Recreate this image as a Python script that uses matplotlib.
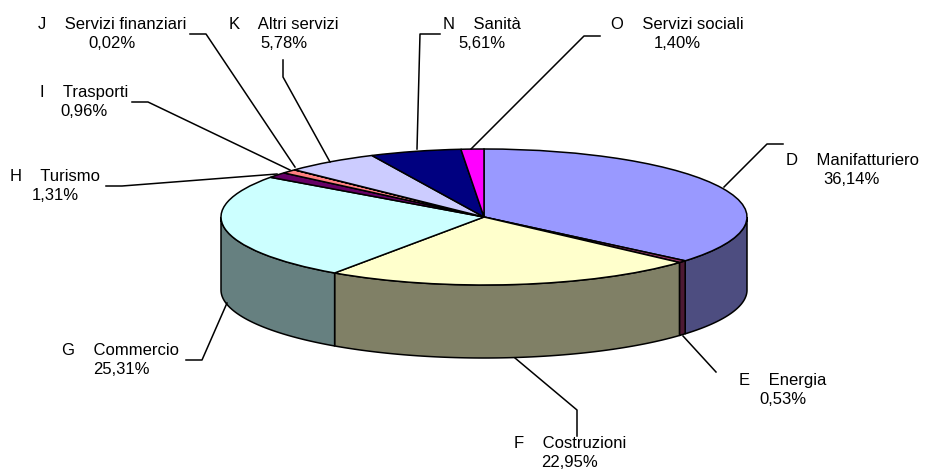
import matplotlib
matplotlib.use('Agg')
import matplotlib.pyplot as plt
import numpy as np
from matplotlib.transforms import Affine2D

plt.rcParams['font.family'] = ['Liberation Sans', 'DejaVu Sans']

W, H = 931, 472

# dati
sigle = ['D', 'E', 'F', 'G', 'H', 'I', 'J', 'K', 'N', 'O']
settori = ['Manifatturiero', 'Energia', 'Costruzioni', 'Commercio', 'Turismo',
           'Trasporti', 'Servizi finanziari', 'Altri servizi', 'Sanità', 'Servizi sociali']
valori = [36.14, 0.53, 22.95, 25.31, 1.31, 0.96, 0.02, 5.78, 5.61, 1.40]
colori = ['#9999FF', '#993366', '#FFFFCC', '#CCFFFF', '#660066',
          '#FF8080', '#0066CC', '#CCCCFF', '#000080', '#FF00FF']

# posizione etichette (pixel) e linee guida
pos_etichette = [(852, 170), (783, 390), (570, 453), (121, 360), (55, 186),
                 (84, 102), (112, 34), (284, 34), (482, 34), (677, 34)]
guide = [
    [(783, 144), (767, 144), (724, 187)],
    [(683, 336), (716, 372)],
    [(515, 358), (577, 410), (577, 436)],
    [(186, 360), (202, 360), (227, 303)],
    [(106, 186), (122, 186), (277, 174)],
    [(132, 102), (148, 102), (290, 170)],
    [(190, 34), (206, 34), (295, 167)],
    [(283, 60), (283, 77), (330, 162)],
    [(440, 34), (420, 34), (417, 149)],
    [(600, 36), (584, 36), (471, 149)],
]

# geometria dell'ellisse in pixel
cx, cy = 484, 217
rx, ry = 263, 68
spessore = 73 / ry

fig = plt.figure(figsize=(W / 100, H / 100), dpi=100)
ax = fig.add_axes([0, 0, 1, 1])
ax.axis('off')


def scurisci(c):
    return tuple(v * 0.5 for v in matplotlib.colors.to_rgb(c))


# pareti laterali (solo la metà davanti)
cum = np.cumsum([0] + valori) / sum(valori) * 360
for i, col in enumerate(colori):
    a0, a1 = max(cum[i], 90), min(cum[i + 1], 270)
    if a1 <= a0:
        continue
    t = np.radians(np.linspace(a0, a1, 80))
    x = np.sin(t)
    y = np.cos(t)
    ax.fill(np.r_[x, x[::-1]], np.r_[y, y[::-1] - spessore],
            facecolor=scurisci(col), edgecolor='black', linewidth=1.1, zorder=1)

# faccia superiore
wedges, _ = ax.pie(valori, colors=colori, startangle=90, counterclock=False, radius=1,
                   wedgeprops={'edgecolor': 'black', 'linewidth': 1.1})
for w in wedges:
    w.set_zorder(2)

# schiaccia il cerchio in ellisse
ax.set_aspect('auto')
ax.set_xlim(-cx / rx, (W - cx) / rx)
ax.set_ylim((cy - H) / ry, cy / ry)

px = Affine2D().scale(1, -1).translate(0, H)

for g in guide:
    xs, ys = zip(*g)
    ax.plot(xs, ys, color='black', linewidth=1.1, transform=px, clip_on=False, zorder=3)

for s, nome, v, (tx, ty) in zip(sigle, settori, valori, pos_etichette):
    testo = '%s    %s\n%s%%' % (s, nome, ('%.2f' % v).replace('.', ','))
    ax.text(tx, ty, testo, transform=px, ha='center', va='center', fontsize=12,
            color='black', linespacing=1.38, zorder=4)

fig.savefig('out.png', dpi=100, facecolor='white')
